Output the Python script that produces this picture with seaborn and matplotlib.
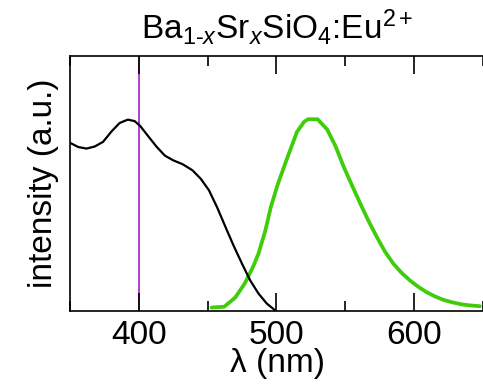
import matplotlib
matplotlib.use("Agg")
import matplotlib.pyplot as plt
import seaborn as sns
import numpy as np
import pandas as pd
from matplotlib.ticker import MultipleLocator

# Excitation (black) spectrum
exc_wl = [350, 356, 362, 368, 374, 380, 386, 392, 397, 401, 407, 413, 419, 425,
          432, 439, 445, 451, 457, 463, 469, 475, 481, 487, 493, 499]
exc_int = [0.877, 0.855, 0.847, 0.858, 0.882, 0.935, 0.980, 0.998, 0.990, 0.965,
           0.910, 0.856, 0.810, 0.786, 0.765, 0.734, 0.690, 0.630, 0.540, 0.439,
           0.340, 0.248, 0.160, 0.092, 0.040, 0.005]

# Emission (green) spectrum
em_wl = [453, 462, 470, 477, 483, 487, 492, 496, 501, 508, 515, 520, 523, 530,
         537, 543, 549, 555, 561, 567, 573, 579, 585, 591, 597, 603, 609, 615,
         621, 628, 635, 641, 648]
em_int = [0.019, 0.023, 0.070, 0.144, 0.230, 0.300, 0.420, 0.543, 0.660, 0.800,
          0.934, 0.985, 1.000, 1.000, 0.946, 0.860, 0.752, 0.655, 0.561, 0.470,
          0.387, 0.310, 0.248, 0.200, 0.161, 0.128, 0.100, 0.078, 0.060, 0.046,
          0.035, 0.030, 0.026]

laser_wl = 400
xticks = [400, 500, 600]

sns.set_theme(style="ticks", rc={
    "axes.edgecolor": "black", "text.color": "black", "axes.labelcolor": "black",
    "xtick.color": "black", "ytick.color": "black", "axes.axisbelow": False,
})
plt.rcParams['font.family'] = ['Liberation Sans', 'DejaVu Sans']
plt.rcParams['mathtext.fontset'] = 'custom'
plt.rcParams['mathtext.rm'] = 'Liberation Sans'
plt.rcParams['mathtext.it'] = 'Liberation Sans:italic'

fig = plt.figure(figsize=(4.83, 3.88), dpi=100)
ax = fig.add_axes([0.145, 0.198, 0.86, 0.658])

ax.axvline(laser_wl, color="#a020c8", lw=1.2, zorder=1)
sns.lineplot(x=exc_wl, y=exc_int, ax=ax, color="black", lw=1.6, sort=False, zorder=3)
sns.lineplot(x=em_wl, y=em_int, ax=ax, color="#3fcc0a", lw=2.7, sort=False, zorder=2)

ax.set_xlim(350, 652)
ax.set_ylim(0, 1.33)
ax.set_xticks(xticks)
ax.xaxis.set_minor_locator(MultipleLocator(50))
ax.set_yticks([])
ax.xaxis.set_ticks_position('both')
ax.tick_params(axis='x', which='major', direction='in', length=13, width=1.2,
               top=True, bottom=True, labelsize=24, pad=6, color='black',
               labelcolor='black')
ax.tick_params(axis='x', which='minor', direction='in', length=7, width=1.2,
               top=True, bottom=True, color='black')
for s in ['left', 'bottom', 'top']:
    ax.spines[s].set_color('black')
    ax.spines[s].set_linewidth(1.2)
ax.spines['right'].set_visible(False)

ax.set_xlabel("λ (nm)", fontsize=24, labelpad=-2, color='black')
ax.set_ylabel("intensity (a.u.)", fontsize=24, labelpad=8, color='black')
fig.text(0.145 + 0.86 * 0.5 - 0.002, 0.93,
         r"Ba$_{1\text{-}\mathit{x}}$Sr$_{\mathit{x}}$SiO$_4$:Eu$^{2+}$",
         fontsize=24, ha='center', va='center', color='black')

fig.savefig("out.png", dpi=100)
